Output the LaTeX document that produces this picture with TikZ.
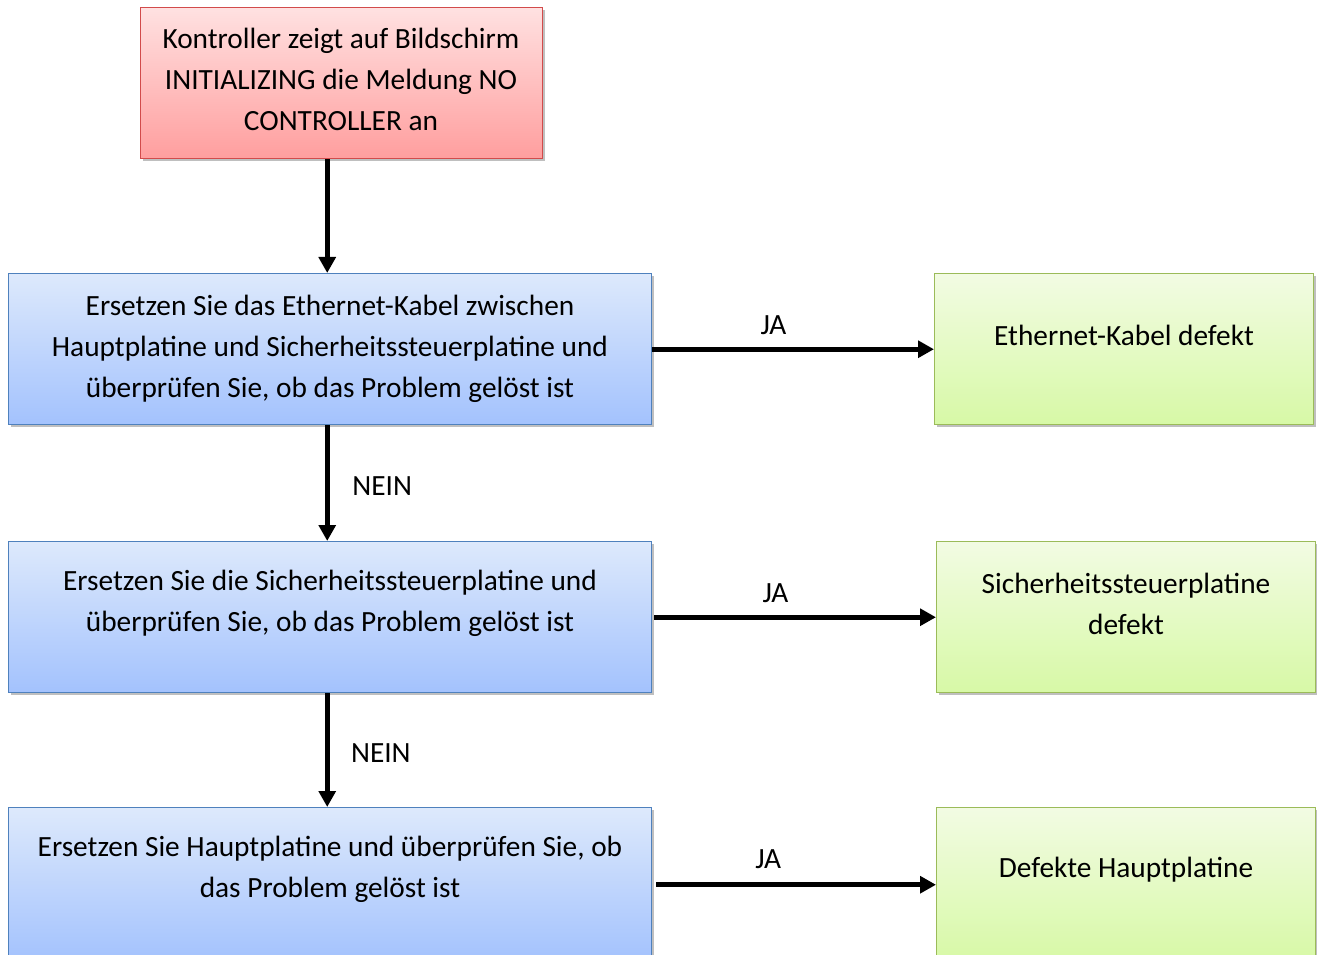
\documentclass[tikz,border=0pt]{standalone}
\usepackage{fontspec}
\setmainfont{Carlito}
\usetikzlibrary{arrows.meta,shadows}
\definecolor{redtop}{HTML}{FFE1E1}
\definecolor{redbot}{HTML}{FF9E9E}
\definecolor{redline}{HTML}{D24B4B}
\definecolor{bluetop}{HTML}{DDE9FC}
\definecolor{bluebot}{HTML}{A3C2FD}
\definecolor{blueline}{HTML}{4F81BD}
\definecolor{greentop}{HTML}{F2FBE3}
\definecolor{greenbot}{HTML}{D7F9A6}
\definecolor{greenline}{HTML}{9BBB59}
\tikzset{
  boxbase/.style={rectangle, inner sep=0pt, anchor=north west, line width=1.1pt,
    drop shadow={shadow xshift=1.5pt, shadow yshift=-1.5pt, opacity=0.25, fill=black}},
  redbox/.style={boxbase, draw=redline, top color=redtop, bottom color=redbot},
  bluebox/.style={boxbase, draw=blueline, top color=bluetop, bottom color=bluebot},
  greenbox/.style={boxbase, draw=greenline, top color=greentop, bottom color=greenbot},
  txt/.style={align=center, font=\fontsize{22}{30.75}\selectfont, inner sep=0pt},
  lbl/.style={font=\fontsize{22}{26}\selectfont, inner sep=0pt},
  conn/.style={line width=3.75pt, -{Triangle[length=12pt,width=12.5pt]}}
}
\begin{document}
\begin{tikzpicture}[x=0.75pt,y=-0.75pt]
\useasboundingbox (0,0) rectangle (1317,955);
\clip (0,0) rectangle (1317,955);
% boxes
\node[redbox, minimum width=301.5pt, minimum height=113.25pt] (top) at (140,7) {};
\node[bluebox, minimum width=482.25pt, minimum height=113.25pt] (b1) at (8,273) {};
\node[bluebox, minimum width=482.25pt, minimum height=113.25pt] (b2) at (8,541) {};
\node[bluebox, minimum width=482.25pt, minimum height=115.5pt] (b3) at (8,807) {};
\node[greenbox, minimum width=284.25pt, minimum height=113.25pt] (g1) at (934,273) {};
\node[greenbox, minimum width=284.25pt, minimum height=113.25pt] (g2) at (936,541) {};
\node[greenbox, minimum width=284.25pt, minimum height=115.5pt] (g3) at (936,807) {};
% texts
\node[txt] (ttop) at (341,79.5) {Kontroller zeigt auf Bildschirm\\INITIALIZING die Meldung NO\\CONTROLLER an};
\node[txt] (tb1) at (330,349) {Ersetzen Sie das Ethernet-Kabel zwischen\\Hauptplatine und Sicherheitssteuerplatine und\\überprüfen Sie, ob das Problem gelöst ist};
\node[txt] (tb2) at (330,603.5) {Ersetzen Sie die Sicherheitssteuerplatine und\\überprüfen Sie, ob das Problem gelöst ist};
\node[txt] (tb3) at (330,869.5) {Ersetzen Sie Hauptplatine und überprüfen Sie, ob\\das Problem gelöst ist};
\node[txt] (tg1) at (1124,335) {Ethernet-Kabel defekt};
\node[txt] (tg2) at (1126,603.5) {Sicherheitssteuerplatine\\defekt};
\node[txt] (tg3) at (1126,870) {Defekte Hauptplatine};
% connectors
\draw[conn] ([xshift=-2.25pt]top.south -| b1.north) -- ([xshift=-2.25pt]b1.north);
\draw[conn] ([xshift=-2.25pt]b1.south) -- ([xshift=-2.25pt]b2.north) node[lbl, midway, right=17pt, yshift=-2pt] (n1) {NEIN};
\draw[conn] ([xshift=-2.25pt]b2.south) -- ([xshift=-2.25pt]b3.north) node[lbl, midway, right=16pt, yshift=-2pt] (n2) {NEIN};
\draw[conn] (b1.east) -- (g1.west) node[lbl, pos=0.43, above=9pt] (j1) {JA};
\draw[conn] ([xshift=1.5pt]b2.east) -- (g2.west) node[lbl, pos=0.43, above=9pt] (j2) {JA};
\draw[conn] ([xshift=3pt]b3.east) -- (g3.west) node[lbl, pos=0.40, above=10pt] (j3) {JA};
\end{tikzpicture}
\end{document}
